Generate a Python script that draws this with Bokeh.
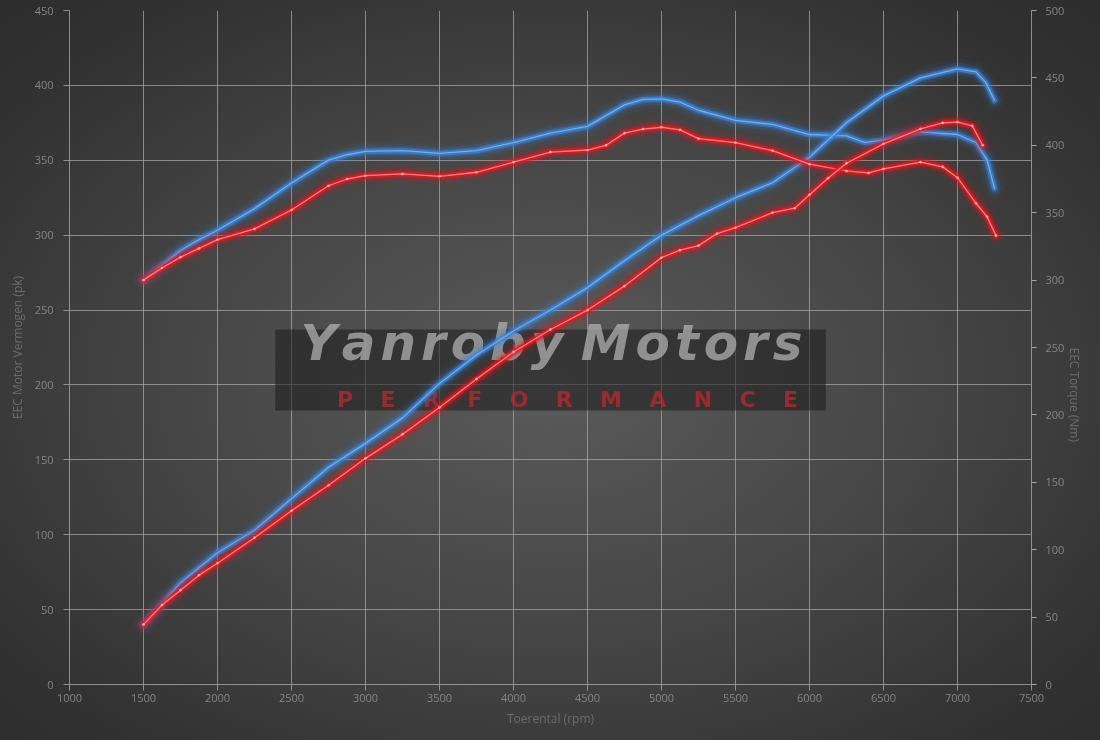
import math
from bokeh.plotting import figure
from bokeh.models import Range1d, LinearAxis, SingleIntervalTicker, BoxAnnotation, Label
from bokeh.embed import file_html
from bokeh.resources import INLINE

# ---------------- data ----------------
# Tuned power (pk) - blue
blue_power_rpm = [1500, 1625, 1750, 1875, 2000, 2250, 2500, 2750, 3000, 3250, 3500, 3750, 4000,
                  4250, 4500, 4750, 5000, 5250, 5500, 5750, 6000, 6250, 6500, 6750, 6875, 7000,
                  7125, 7190, 7250]
blue_power = [40, 54, 68, 78, 88, 103, 124, 145, 161, 178, 201, 220, 236,
              250, 265, 283, 300, 313, 325, 335, 352, 375, 393, 405, 408, 411,
              409, 402, 390]

# Stock power (pk) - red
red_power_rpm = [1500, 1625, 1750, 1875, 2000, 2250, 2500, 2750, 3000, 3250, 3500, 3750, 4000,
                 4250, 4500, 4750, 5000, 5125, 5250, 5375, 5500, 5750, 5900, 6000, 6125, 6250,
                 6500, 6750, 6900, 7000, 7100, 7170]
red_power = [40, 53, 63, 73, 81, 98, 116, 133, 151, 167, 185, 204, 222,
             237, 250, 266, 285, 290, 293, 301, 305, 315, 318, 327, 338, 348,
             361, 371, 375, 375.5, 373, 360]

# Tuned torque (Nm) - blue
blue_torque_rpm = [1500, 1625, 1750, 1875, 2000, 2250, 2500, 2750, 2875, 3000, 3250, 3500, 3750,
                   4000, 4250, 4500, 4625, 4750, 4875, 5000, 5125, 5250, 5500, 5750, 6000, 6250,
                   6375, 6500, 6750, 7000, 7125, 7200, 7250]
blue_torque = [300, 311, 322, 330, 337, 353, 372, 389, 393, 395.5, 396, 394, 396,
               402, 409, 414, 422, 430, 434, 434.5, 432, 426, 418.5, 415.5, 408, 407,
               402, 404, 410, 408, 402, 389, 368]

# Stock torque (Nm) - red
red_torque_rpm = [1500, 1625, 1750, 1875, 2000, 2250, 2500, 2750, 2875, 3000, 3250, 3500, 3750,
                  4000, 4250, 4500, 4625, 4750, 4875, 5000, 5125, 5250, 5500, 5750, 6000, 6250,
                  6400, 6500, 6750, 6900, 7000, 7125, 7200, 7260]
red_torque = [300, 309, 317, 323.5, 330, 338, 352, 370, 375, 377.5, 378.8, 377, 380,
              387.5, 395, 396.5, 400, 409, 412, 413.4, 411.5, 405, 402, 396, 386, 381,
              379.5, 382.5, 387.5, 384, 376, 357, 347, 333]

x_title = "Toerental (rpm)"
y_title = "EEC Motor Vermogen (pk)"
y2_title = "EEC Torque (Nm)"
HS = "\u200a"
brand = HS.join("Yanroby") + "\u00a0" + HS.join("Motors")
brand_sub = ("\u00a0\u00a0\u00a0\u2009").join("PERFORMANCE")

FONT = "Open Sans"
GRID = "#a6a6a6"
TICK_TXT = "#858585"
AX_TXT = "#6c6c6c"

p = figure(width=1100, height=740, output_backend="svg", toolbar_location=None,
           x_range=Range1d(1000, 7500), y_range=Range1d(0, 450),
           min_border_left=69, min_border_right=69, min_border_top=10, min_border_bottom=56)
p.styles = {"position": "fixed", "left": "0px", "top": "0px",
            "background": "radial-gradient(ellipse 75% 75% at 50% 52%, #5a5a5a 0%, #464646 45%, #323232 80%, #2b2b2b 100%)"}
p.background_fill_alpha = 0
p.border_fill_alpha = 0
p.outline_line_color = None
p.extra_y_ranges = {"torque": Range1d(0, 500)}

# axes styling
p.xaxis.ticker = SingleIntervalTicker(interval=500)
p.yaxis.ticker = SingleIntervalTicker(interval=50)
for ax in (p.xaxis[0], p.yaxis[0]):
    ax.axis_line_color = GRID
    ax.axis_line_alpha = 0.8
    ax.major_tick_line_color = GRID
    ax.major_tick_line_alpha = 0.8
    ax.major_tick_in = 0
    ax.major_tick_out = 6
    ax.minor_tick_line_color = None
    ax.major_label_text_color = TICK_TXT
    ax.major_label_text_font = FONT
    ax.major_label_text_font_size = "11px"
    ax.axis_label_text_color = AX_TXT
    ax.axis_label_text_font = FONT
    ax.axis_label_text_font_size = "12px"
    ax.axis_label_text_font_style = "normal"
p.xaxis.axis_label = x_title
p.xaxis.major_label_standoff = 3
p.xaxis.axis_label_standoff = 5
p.yaxis.axis_label = y_title
p.yaxis.major_label_standoff = 10
p.yaxis.axis_label_standoff = 6

rax = LinearAxis(y_range_name="torque", ticker=SingleIntervalTicker(interval=50), axis_label=y2_title)
rax.axis_line_color = GRID
rax.axis_line_alpha = 0.8
rax.major_tick_line_color = GRID
rax.major_tick_in = 0
rax.major_tick_out = 5
rax.minor_tick_line_color = None
rax.major_label_text_color = TICK_TXT
rax.major_label_text_font = FONT
rax.major_label_text_font_size = "11px"
rax.major_label_standoff = 9
rax.axis_label_text_color = AX_TXT
rax.axis_label_text_font = FONT
rax.axis_label_text_font_size = "12px"
rax.axis_label_text_font_style = "normal"
rax.axis_label_standoff = 7
rax.axis_label_orientation = -math.pi / 2
p.add_layout(rax, "right")

p.xgrid.grid_line_color = GRID
p.xgrid.grid_line_alpha = 0.75
p.ygrid.grid_line_color = GRID
p.ygrid.grid_line_alpha = 0.75
p.xgrid.ticker = p.xaxis[0].ticker
p.ygrid.ticker = p.yaxis[0].ticker

# watermark
p.add_layout(BoxAnnotation(left=2390, right=6110, bottom=183, top=237,
                           fill_color="#1c1c1c", fill_alpha=0.55, line_color=None, level="underlay"))
p.add_layout(Label(x=4257, y=228, text=brand, text_font="DejaVu Sans", text_font_style="bold italic",
                   text_font_size="50px", text_color="#b4b4b4", text_alpha=0.72,
                   text_align="center", text_baseline="middle", level="underlay"))
p.add_layout(Label(x=4365, y=190, text=brand_sub, text_font="DejaVu Sans", text_font_style="bold",
                   text_font_size="22px", text_color="#c8262c", text_alpha=0.7,
                   text_align="center", text_baseline="middle", level="underlay"))


def glow_line(xs, ys, glow, core, rng=None):
    kw = {}
    if rng:
        kw["y_range_name"] = rng
    for w, a in ((20, 0.06), (13, 0.13), (8, 0.3), (5, 0.72)):
        p.line(xs, ys, line_color=glow, line_width=w, line_alpha=a,
               line_join="round", line_cap="round", **kw)
    p.line(xs, ys, line_color=core, line_width=1.3, line_alpha=0.9,
           line_join="round", line_cap="round", **kw)


BLUE_GLOW, BLUE_CORE = "#3b84d8", "#76b2f0"
RED_GLOW, RED_CORE = "#e5181e", "#ff8a8a"

glow_line(blue_torque_rpm, blue_torque, BLUE_GLOW, BLUE_CORE, "torque")
glow_line(blue_power_rpm, blue_power, BLUE_GLOW, BLUE_CORE)
glow_line(red_torque_rpm, red_torque, RED_GLOW, RED_CORE, "torque")
glow_line(red_power_rpm, red_power, RED_GLOW, RED_CORE)

p.scatter(red_power_rpm, red_power, size=2, color="#ffc4c4", alpha=0.6)
p.scatter(red_torque_rpm, red_torque, size=2, color="#ffc4c4", alpha=0.6, y_range_name="torque")

open("out.html", "w").write(file_html(p, INLINE))
